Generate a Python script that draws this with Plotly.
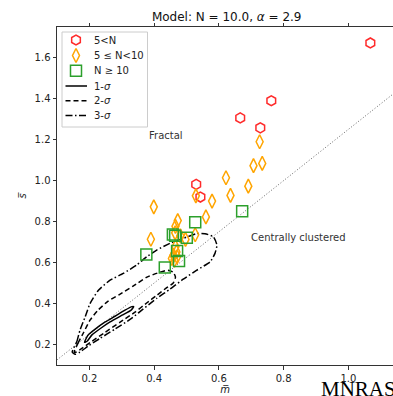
import plotly.graph_objects as go

# --- cluster measurements: mean edge length (m) vs mean separation (s) ---
red_m = [1.068, 0.762, 0.666, 0.728, 0.530, 0.543]
red_s = [1.672, 1.390, 1.306, 1.258, 0.982, 0.920]

orange_m = [0.726, 0.707, 0.734, 0.622, 0.691, 0.636, 0.579, 0.529, 0.560, 0.399,
            0.473, 0.466, 0.390, 0.527, 0.481, 0.497, 0.466, 0.469, 0.460, 0.455,
            0.463, 0.471, 0.465]
orange_s = [1.190, 1.073, 1.084, 1.014, 0.973, 0.928, 0.900, 0.926, 0.823, 0.872,
            0.805, 0.777, 0.714, 0.736, 0.731, 0.713, 0.677, 0.652, 0.636, 0.620,
            0.612, 0.628, 0.745]

green_m = [0.527, 0.458, 0.465, 0.501, 0.376, 0.471, 0.477, 0.433, 0.672]
green_s = [0.797, 0.737, 0.731, 0.721, 0.640, 0.657, 0.608, 0.576, 0.850]

# --- model contours (closed paths) ---
sig1_m = [0.185, 0.196, 0.218, 0.249, 0.279, 0.310, 0.332, 0.337, 0.329, 0.301,
          0.264, 0.233, 0.208, 0.193, 0.185]
sig1_s = [0.211, 0.246, 0.275, 0.310, 0.338, 0.368, 0.385, 0.385, 0.368, 0.343,
          0.310, 0.277, 0.247, 0.216, 0.211]

sig2_m = [0.153, 0.165, 0.181, 0.202, 0.227, 0.258, 0.295, 0.335, 0.378, 0.418,
          0.443, 0.459, 0.466, 0.459, 0.437, 0.409, 0.378, 0.341, 0.295, 0.249,
          0.208, 0.178, 0.159, 0.153]
sig2_s = [0.163, 0.207, 0.255, 0.319, 0.368, 0.412, 0.446, 0.485, 0.529, 0.553,
          0.563, 0.553, 0.529, 0.500, 0.475, 0.441, 0.404, 0.358, 0.309, 0.260,
          0.216, 0.182, 0.163, 0.163]

sig3_m = [0.147, 0.161, 0.171, 0.187, 0.202, 0.228, 0.264, 0.305, 0.346, 0.377,
          0.408, 0.449, 0.490, 0.532, 0.557, 0.583, 0.594, 0.588, 0.573, 0.532,
          0.490, 0.449, 0.409, 0.366, 0.329, 0.279, 0.233, 0.196, 0.171, 0.156,
          0.147]
sig3_s = [0.163, 0.213, 0.270, 0.335, 0.400, 0.465, 0.514, 0.547, 0.588, 0.628,
          0.661, 0.694, 0.718, 0.742, 0.741, 0.726, 0.685, 0.645, 0.604, 0.563,
          0.519, 0.470, 0.426, 0.373, 0.326, 0.275, 0.230, 0.192, 0.163, 0.153,
          0.163]

# reference line s = 1.25 m
ref_m = [0.10, 1.15]
ref_s = [0.125, 1.4375]

font = "DejaVu Sans"
RED, ORANGE, GREEN = "#ff2a2a", "#ffa500", "#2ca02c"
DASH2 = "5px,3px"
DASH3 = "7px,2.5px,1.5px,2.5px"

fig = go.Figure()

fig.add_trace(go.Scatter(x=ref_m, y=ref_s, mode="lines", showlegend=False, hoverinfo="skip",
                         line=dict(color="#666666", width=1, dash="1px,2px")))

for xs, ys, dash in [(sig1_m, sig1_s, "solid"), (sig2_m, sig2_s, DASH2), (sig3_m, sig3_s, DASH3)]:
    fig.add_trace(go.Scatter(x=xs, y=ys, mode="lines", showlegend=False,
                             line=dict(color="black", width=1.5, dash=dash,
                                       shape="spline", smoothing=0.5)))

marker_styles = [
    ("hexagon-open", 10, RED, "5<N"),
    ("diamond-tall-open", 10, ORANGE, "5 ≤ N<10"),
    ("square-open", 11, GREEN, "N ≥ 10"),
]
for (xs, ys), (sym, size, col, name) in zip(
        [(red_m, red_s), (orange_m, orange_s), (green_m, green_s)], marker_styles):
    fig.add_trace(go.Scatter(x=xs, y=ys, mode="markers", name=name, showlegend=False,
                             marker=dict(symbol=sym, size=size, color=col,
                                         line=dict(width=1.5))))

# --- legend box, drawn on an overlay axis measured in pixels of the plot area ---
leg_rows = [40, 55.5, 70.7, 86, 100.7, 115.5]
for row, (sym, size, col, name) in zip(leg_rows[:3], marker_styles):
    fig.add_trace(go.Scatter(x=[76], y=[row], xaxis="x2", yaxis="y2", mode="markers",
                             showlegend=False, hoverinfo="skip",
                             marker=dict(symbol=sym, size=size, color=col, line=dict(width=1.5))))
for row, dash in zip(leg_rows[3:], ["solid", DASH2, DASH3]):
    fig.add_trace(go.Scatter(x=[65.5, 87], y=[row, row], xaxis="x2", yaxis="y2", mode="lines",
                             showlegend=False, hoverinfo="skip",
                             line=dict(color="black", width=1.5, dash=dash)))
leg_labels = ["5<N", "5 ≤ N<10", "N ≥ 10", "1-<i>σ</i>", "2-<i>σ</i>", "3-<i>σ</i>"]
for row, lab in zip(leg_rows, leg_labels):
    fig.add_annotation(xref="x2", yref="y2", x=92, y=row, text=lab, showarrow=False,
                       xanchor="left", yanchor="middle",
                       font=dict(family=font, size=10, color="#222222"))
fig.add_shape(type="rect", xref="x2", yref="y2", x0=62, x1=147.5, y0=32, y1=127,
              line=dict(color="#cccccc", width=1), fillcolor="rgba(255,255,255,0.8)",
              layer="below")

fig.add_annotation(x=0.437, y=1.218, text="Fractal", showarrow=False,
                   font=dict(family=font, size=10, color="#333333"))
fig.add_annotation(x=0.846, y=0.721, text="Centrally clustered", showarrow=False,
                   font=dict(family=font, size=10, color="#333333"))
fig.add_annotation(xref="paper", yref="paper", x=(319 - 57) / 336, y=-0.029,
                   xanchor="left", yanchor="top", text="MNRAS", showarrow=False,
                   font=dict(family="Liberation Serif", size=21, color="black"))

axis_common = dict(showgrid=False, zeroline=False, showline=True, linecolor="#333333",
                   linewidth=1, ticks="outside", ticklen=3.5, tickwidth=1,
                   tickcolor="#333333", tickfont=dict(family=font, size=10, color="#222222"))

fig.update_layout(
    width=393, height=396,
    margin=dict(l=57, r=0, t=27, b=31),
    paper_bgcolor="white", plot_bgcolor="white",
    showlegend=False,
    title=dict(text="Model: N = 10.0, <i>α</i> = 2.9", xref="container", x=226.7 / 393,
               xanchor="center", y=1 - 17 / 396, yanchor="middle",
               font=dict(family=font, size=12, color="#111111")),
    xaxis=dict(range=[0.1, 1.138], tickvals=[0.2, 0.4, 0.6, 0.8, 1.0],
               ticktext=["0.2", "0.4", "0.6", "0.8", "1.0"], mirror="ticks",
               title=dict(text="<i>m̅</i>", standoff=2,
                          font=dict(family=font, size=10, color="#222222")),
               **axis_common),
    yaxis=dict(range=[0.1, 1.75], tickvals=[0.2, 0.4, 0.6, 0.8, 1.0, 1.2, 1.4, 1.6],
               ticktext=["0.2", "0.4", "0.6", "0.8", "1.0", "1.2", "1.4", "1.6"],
               title=dict(text="<i>s̅</i>", standoff=6,
                          font=dict(family=font, size=10, color="#222222")),
               **axis_common),
    xaxis2=dict(overlaying="x", anchor="y2", range=[57, 393], visible=False, fixedrange=True),
    yaxis2=dict(overlaying="y", anchor="x2", range=[365, 27], visible=False, fixedrange=True),
)

fig.write_html("out.html")
